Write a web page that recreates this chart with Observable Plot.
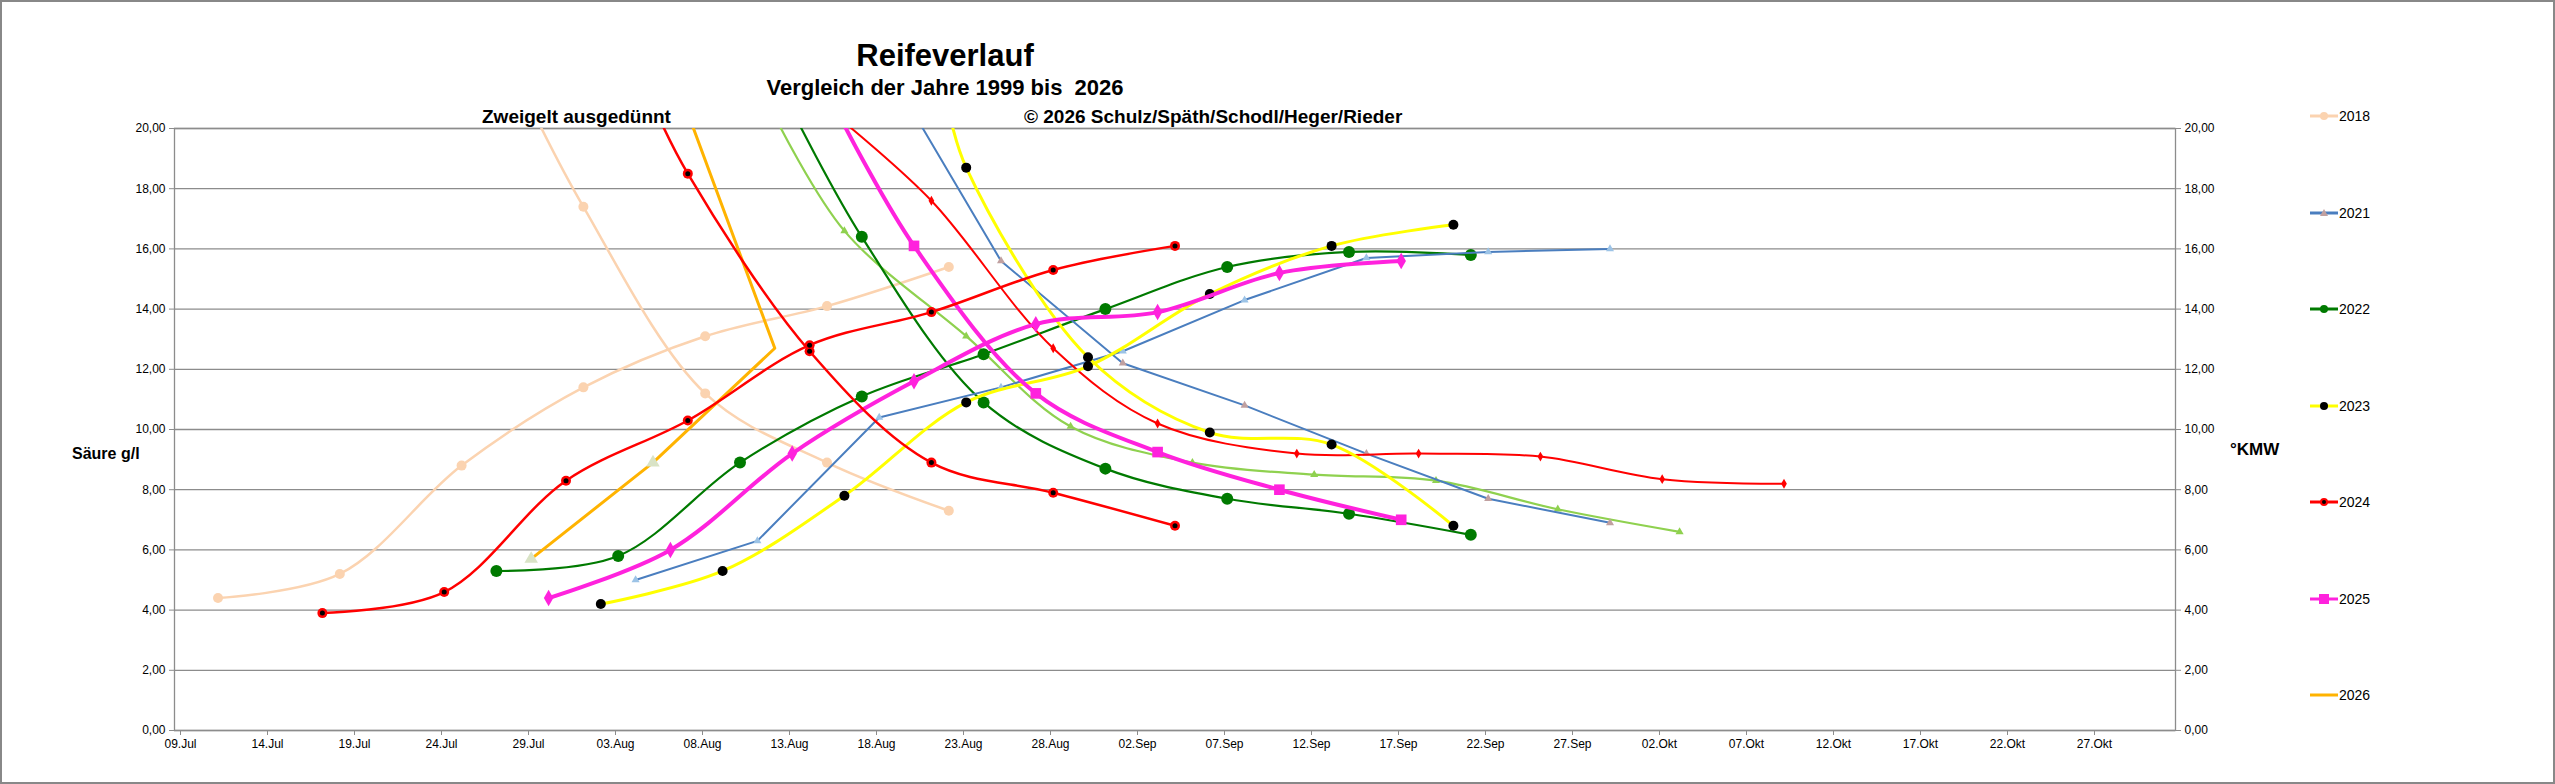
<!DOCTYPE html>
<html><head><meta charset="utf-8">
<script src="https://cdn.jsdelivr.net/npm/d3@7"></script>
<script src="https://cdn.jsdelivr.net/npm/@observablehq/plot@0.6"></script>
<style>
body{margin:0;background:#fff;font-family:"Liberation Sans Narrow","Liberation Sans",sans-serif;}
#wrap{position:relative;width:2555px;height:784px;box-sizing:border-box;border:2px solid #888;}
.t{position:absolute;white-space:nowrap;font-weight:bold;color:#000;}
.lg{position:absolute;font-size:14px;display:flex;align-items:center;}
</style></head><body>
<div id="wrap">
<div class="t" style="left:0;width:1886px;text-align:center;top:36px;font-size:31px;">Reifeverlauf</div>
<div class="t" style="left:0;width:1886px;text-align:center;top:73px;font-size:22px;">Vergleich der Jahre 1999 bis&nbsp; 2026</div>
<div class="t" style="left:480px;top:104px;font-size:19px;">Zweigelt ausgedünnt</div>
<div class="t" style="left:1022px;top:104px;font-size:19px;">© 2026 Schulz/Späth/Schodl/Heger/Rieder</div>
<div class="t" style="left:70px;top:443px;font-size:16px;">Säure g/l</div>
<div class="t" style="left:2228px;top:438px;font-size:17px;">°KMW</div>
<div id="chart" style="position:absolute;left:0;top:0;"></div>
<div id="legend"></div>
</div>
<script>
// Year series: dates (MM-DD, sampled at noon) and values
const s2018up = {d:["07-11","07-18","07-25","08-01","08-08","08-15","08-22"], v:[4.4,5.2,8.8,11.4,13.1,14.1,15.4]};
const s2018dn = {d:["07-29","08-01","08-08","08-15","08-22"], v:[20.7,17.4,11.2,8.9,7.3]};
const s2024up = {d:["07-17","07-24","07-31","08-07","08-14","08-21","08-28","09-04"], v:[3.9,4.6,8.3,10.3,12.8,13.9,15.3,16.1]};
const s2024dn = {d:["08-05","08-07","08-14","08-21","08-28","09-04"], v:[20.8,18.5,12.6,8.9,7.9,6.8]};
const sRedThin = {d:["08-16","08-21","08-28","09-03","09-11","09-18","09-25","10-02","10-09"], v:[20.2,17.6,12.7,10.2,9.2,9.2,9.1,8.35,8.2]};
const sLightGreen = {d:["08-12","08-16","08-23","08-29","09-05","09-12","09-19","09-26","10-03"], v:[20.4,16.6,13.1,10.1,8.9,8.5,8.3,7.35,6.6]};
const s2022up = {d:["07-27","08-03","08-10","08-17","08-24","08-31","09-07","09-14","09-21"], v:[5.3,5.8,8.9,11.1,12.5,14.0,15.4,15.9,15.8]};
const s2022dn = {d:["08-13","08-17","08-24","08-31","09-07","09-14","09-21"], v:[20.6,16.4,10.9,8.7,7.7,7.2,6.5]};
const s2021up = {d:["08-04","08-11","08-18","08-25","09-01","09-08","09-15","09-22","09-29"], v:[5.0,6.3,10.4,11.4,12.6,14.3,15.7,15.9,16.0]};
const s2021dn = {d:["08-20","08-25","09-01","09-08","09-15","09-22","09-29"], v:[20.5,15.6,12.2,10.8,9.2,7.7,6.9]};
const s2023up = {d:["08-02","08-09","08-16","08-23","08-30","09-06","09-13","09-20"], v:[4.2,5.3,7.8,10.9,12.1,14.5,16.1,16.8]};
const s2023dn = {d:["08-22","08-23","08-30","09-06","09-13","09-20"], v:[20.6,18.7,12.4,9.9,9.5,6.8]};
const s2025up = {d:["07-30","08-06","08-13","08-20","08-27","09-03","09-10","09-17"], v:[4.4,6.0,9.2,11.6,13.5,13.9,15.2,15.6]};
const s2025dn = {d:["08-16","08-20","08-27","09-03","09-10","09-17"], v:[20.1,16.1,11.2,9.25,8.0,7.0]};
const s2026 = {d:["07-29","08-05","08-12","08-04"], v:[5.7,8.9,12.7,25.2]};
const legendYears = ["2018","2021","2022","2023","2024","2025","2026"];
const yTicks = [0,2,4,6,8,10,12,14,16,18,20];
const monthNames = ["Jan","Feb","Mär","Apr","Mai","Jun","Jul","Aug","Sep","Okt","Nov","Dez"];

const toDate = s => new Date(`2000-${s}T12:00:00Z`);
const rows = s => s.d.map((d,i)=>({x:toDate(d), y:s.v[i]}));
const xTicks = d3.range(0,115,5).map(k=>new Date(Date.UTC(2000,6,9+k)));
const fmtX = d => String(d.getUTCDate()).padStart(2,"0")+"."+monthNames[d.getUTCMonth()];
const fmtY = v => v.toFixed(2).replace(".",",");

const C = {peach:"#fbd3b0",red:"#ff0000",green:"#007a00",blue:"#4a7ebf",lblue:"#9cc3e6",yellow:"#ffff00",mag:"#ff22dd",orange:"#ffb300",lgreen:"#8fd14f"};
const marks = [];
function ln(s,color,w,curve="catmull-rom"){ marks.push(Plot.line(rows(s),{x:"x",y:"y",stroke:color,strokeWidth:w,curve,clip:true})); }
function dt(s,opt,skip=0){ marks.push(Plot.dot(rows(s).slice(skip),{x:"x",y:"y",...opt})); }

marks.push(Plot.gridY(yTicks,{stroke:"#8c8c8c",strokeOpacity:1,strokeWidth:1.3}));
marks.push(Plot.frame({stroke:"#8c8c8c",strokeWidth:1.3}));

ln(s2018up,C.peach,2.5); ln(s2018dn,C.peach,2.5);
dt(s2018up,{r:5,fill:C.peach}); dt(s2018dn,{r:5,fill:C.peach},1);
ln(s2026,C.orange,3,"linear");
dt({d:["07-29","08-05"],v:[5.7,8.9]},{symbol:"triangle",r:5,fill:"#d9e3c6"});
ln(sLightGreen,C.lgreen,2.2); dt(sLightGreen,{symbol:"triangle",r:3,fill:C.lgreen},1);
ln(s2022up,C.green,2.2); ln(s2022dn,C.green,2.2);
dt(s2022up,{r:6,fill:C.green}); dt(s2022dn,{r:6,fill:C.green},1);
ln(s2021up,C.blue,2,"linear"); ln(s2021dn,C.blue,2,"linear");
dt(s2021up,{symbol:"triangle",r:3,fill:C.lblue}); dt(s2021dn,{symbol:"triangle",r:3,fill:"#c0a0a0"},1);
ln(sRedThin,C.red,2); dt(sRedThin,{symbol:"diamond",r:3,fill:C.red},1);
ln(s2023up,C.yellow,3); ln(s2023dn,C.yellow,3);
dt(s2023up,{r:5,fill:"#000"}); dt(s2023dn,{r:5,fill:"#000"},1);
ln(s2025up,C.mag,4); ln(s2025dn,C.mag,4);
dt(s2025up,{symbol:"diamond",r:5,fill:C.mag}); dt(s2025dn,{symbol:"square",r:6,fill:C.mag},1);
ln(s2024up,C.red,2.5); ln(s2024dn,C.red,2.5);
dt(s2024up,{r:5,fill:C.red}); dt(s2024dn,{r:5,fill:C.red},1);
dt(s2024up,{r:2.5,fill:"#000"}); dt(s2024dn,{r:2.5,fill:"#000"},1);

marks.push(Plot.axisY(yTicks,{anchor:"left",tickFormat:fmtY,tickSize:5,stroke:"#8c8c8c",fontSize:12,label:null}));
marks.push(Plot.axisY(yTicks,{anchor:"right",tickFormat:fmtY,tickSize:5,stroke:"#8c8c8c",fontSize:12,label:null,textAnchor:"start"}));
marks.push(Plot.axisX(xTicks,{tickFormat:fmtX,tickSize:5,stroke:"#8c8c8c",fontSize:12,label:null,dx:6}));

const plot = Plot.plot({
  width:2551, height:780,
  marginLeft:172, marginRight:378, marginTop:126, marginBottom:52,
  style:{fontFamily:"'Liberation Sans Narrow','Liberation Sans',sans-serif",fontSize:"12px",background:"transparent"},
  x:{type:"utc",domain:[new Date(Date.UTC(2000,6,9)),new Date(Date.UTC(2000,10,1))]},
  y:{domain:[0,20]},
  marks
});
document.getElementById("chart").appendChild(plot);

// legend
const legCol = {"2018":[C.peach,"circle",C.peach],"2021":[C.blue,"triangle","#c0a0a0"],"2022":[C.green,"circle",C.green],"2023":[C.yellow,"circle","#000"],"2024":[C.red,"circle",C.red],"2025":[C.mag,"square",C.mag],"2026":[C.orange,null,null]};
const lg = document.getElementById("legend");
legendYears.forEach((y,i)=>{
  const [c,sym,f]=legCol[y];
  const top = 106 + i*96.5;
  let m="";
  if(sym==="circle") m=`<circle cx="14" cy="6" r="4" fill="${f}"/>` + (y==="2024"?`<circle cx="14" cy="6" r="2" fill="#000"/>`:"");
  if(sym==="triangle") m=`<path d="M14,2 L18,9 L10,9Z" fill="${f}"/>`;
  if(sym==="square") m=`<rect x="9" y="1" width="10" height="10" fill="${f}"/>`;
  const d=document.createElement("div"); d.className="lg"; d.style.left="2308px"; d.style.top=top+"px";
  d.innerHTML=`<svg width="28" height="12"><line x1="0" x2="28" y1="6" y2="6" stroke="${c}" stroke-width="3"/>${m}</svg><span style="margin-left:1px">${y}</span>`;
  lg.appendChild(d);
});
</script>
</body></html>
